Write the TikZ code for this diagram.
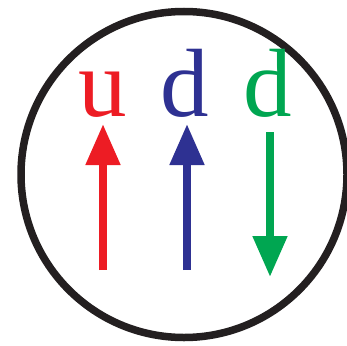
\documentclass[tikz,border=0pt]{standalone}
\usepackage{fontspec}
\setmainfont{Liberation Serif}
\usetikzlibrary{arrows.meta}
\definecolor{qred}{HTML}{ED1C24}
\definecolor{qblue}{HTML}{2E3192}
\definecolor{qgreen}{HTML}{00A651}
\definecolor{qblack}{HTML}{231F20}
\begin{document}
\begin{tikzpicture}[x=1pt,y=-1pt,
  quark/.style={anchor=base,inner sep=0pt,font=\fontsize{97}{97}\selectfont},
  spin/.style={line width=8pt,-{Triangle[length=41pt,width=33pt]}}]
\useasboundingbox (0,0) rectangle (347,345);
\draw[qblack,line width=7.5pt] (184,174.5) circle[radius=163];
\node[quark,text=qred]   (u)  at (103,116) {u};
\node[quark,text=qblue]  (d1) at (185,116) {d};
\node[quark,text=qgreen] (d2) at (268,116) {d};
\coordinate (a1s) at (103,270); \coordinate (a1e) at (103,124);
\coordinate (a2s) at (187,270); \coordinate (a2e) at (187,124);
\coordinate (a3s) at (270,132); \coordinate (a3e) at (270,277);
\draw[spin,qred]   (a1s) -- (a1e);
\draw[spin,qblue]  (a2s) -- (a2e);
\draw[spin,qgreen] (a3s) -- (a3e);
\end{tikzpicture}
\end{document}
